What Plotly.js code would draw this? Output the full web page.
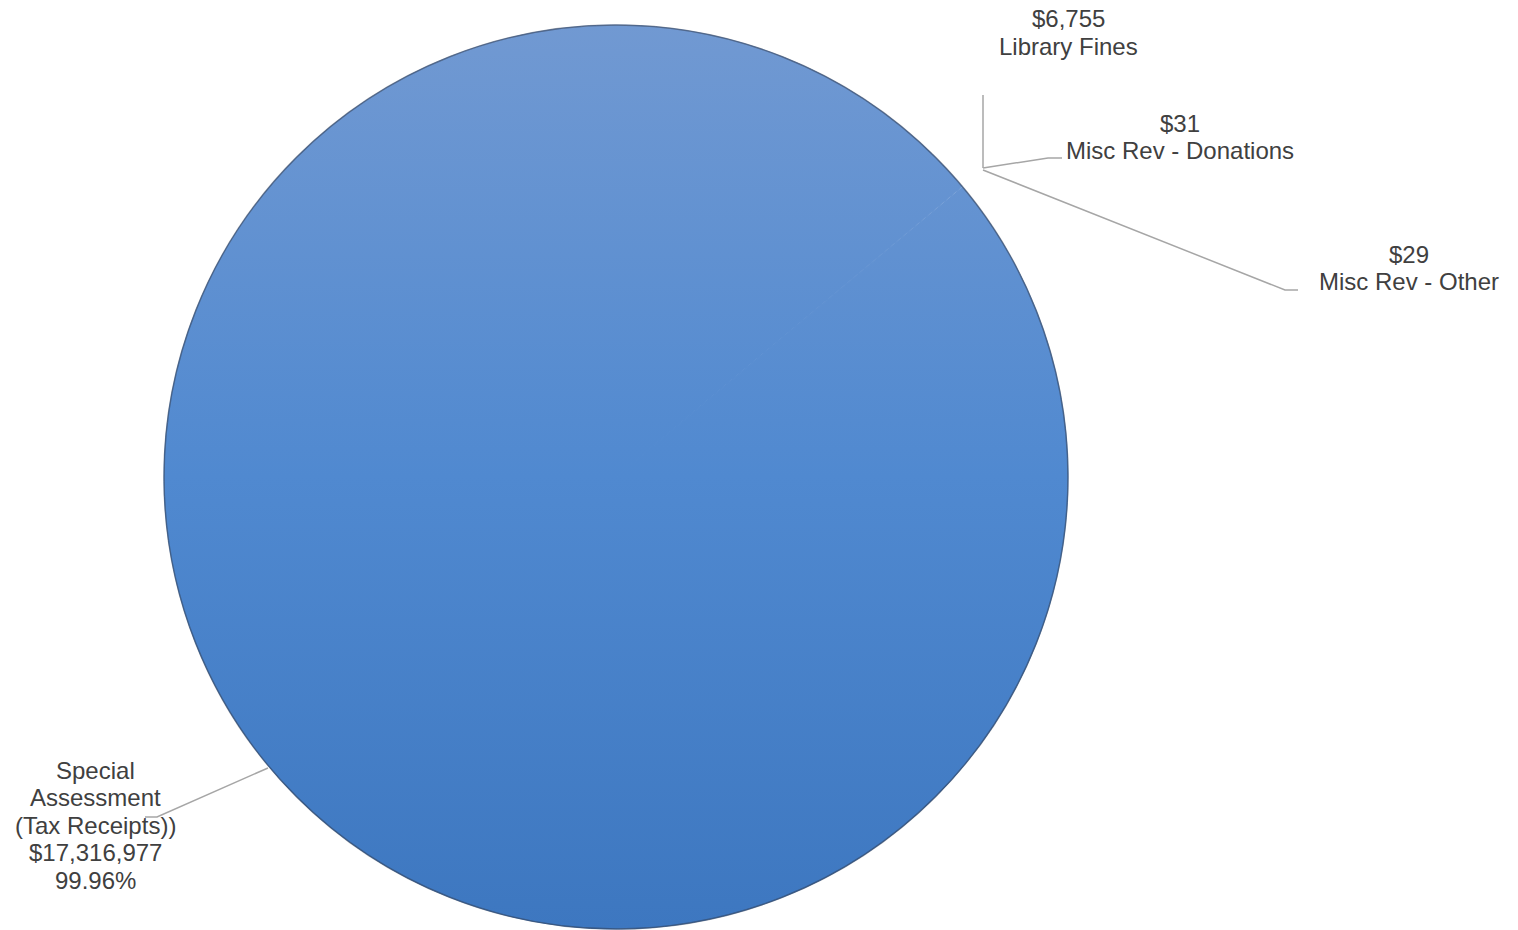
<!DOCTYPE html>
<html>
<head>
<meta charset="utf-8">
<script src="https://cdn.plot.ly/plotly-3.0.1.min.js"></script>
<style>
html,body{margin:0;padding:0;background:#fff;}
#chart{width:1518px;height:930px;}
</style>
</head>
<body>
<div id="chart"></div>
<script>
// ---- data ----
const categories = ["Library Fines", "Misc Rev - Donations", "Misc Rev - Other", "Special Assessment (Tax Receipts))"];
const displayNames = ["Library Fines", "Misc Rev - Donations", "Misc Rev - Other", "Special<br>Assessment<br>(Tax Receipts))"];
const amounts = [6755, 31, 29, 17316977];
const sliceColors = ["#a9c1e4", "#8fb0dd", "#6694d1", "#5089d0"];

// ---- layout helpers (pixel -> paper) ----
const W = 1518, H = 930;
const px = x => x / W;
const py = y => 1 - y / H;

const total = amounts.reduce((a, b) => a + b, 0);
const fmt = v => "$" + v.toLocaleString("en-US");

const labelText = amounts.map((v, i) => {
  if (i === 3) return displayNames[i] + "<br>" + fmt(v) + "<br>" + (100 * v / total).toFixed(2) + "%";
  return fmt(v) + "<br>" + displayNames[i];
});

// label block positions (pixels): centre x, first-line centre y; line step
const labelPos = [[1068, 19], [1180, 123], [1409, 254], [95, 770]];
const lineStep = 27.5;

const annotations = [];
labelText.forEach((t, i) => {
  t.split("<br>").forEach((line, j) => {
    annotations.push({
      text: line, x: px(labelPos[i][0]), y: py(labelPos[i][1] + j * lineStep),
      xref: "paper", yref: "paper", showarrow: false,
      xanchor: "center", yanchor: "middle", align: "center",
      font: {family: "Liberation Sans, Arial, sans-serif", size: 24, color: "#404040"}
    });
  });
});

// leader lines (pixels)
const leaders = [
  [[983, 168], [983, 95]],
  [[983, 168], [1048, 158], [1062, 158]],
  [[983, 170], [1285, 290], [1298, 290]],
  [[268, 768], [157, 817], [145, 817]]
];
const cx = 616, cy = 477, r = 452;
const shapes = leaders.map(pts => ({
  type: "path", xref: "paper", yref: "paper",
  path: pts.map((p, j) => (j ? "L" : "M") + px(p[0]) + "," + py(p[1])).join(" "),
  line: {color: "#a6a6a6", width: 1.5}
}));
// soft outer edge of the pie
shapes.push({
  type: "circle", xref: "paper", yref: "paper",
  x0: px(cx - r), x1: px(cx + r), y0: py(cy + r), y1: py(cy - r),
  line: {color: "rgba(50,60,80,0.55)", width: 1.5}, layer: "above"
});

const trace = {
  type: "pie",
  labels: categories,
  values: amounts,
  sort: false,
  direction: "clockwise",
  rotation: 50,
  textinfo: "none",
  hoverinfo: "label+value+percent",
  marker: {colors: sliceColors, line: {width: 1, color: sliceColors}},
  domain: {x: [px(cx - r), px(cx + r)], y: [py(cy + r), py(cy - r)]},
  showlegend: false
};

const layout = {
  width: W, height: H,
  margin: {l: 0, r: 0, t: 0, b: 0},
  paper_bgcolor: "#ffffff",
  showlegend: false,
  annotations: annotations,
  shapes: shapes
};

Plotly.newPlot("chart", [trace], layout, {displayModeBar: false, staticPlot: true}).then(gd => {
  // vertical gradient fill for the large slice
  const svg = gd.querySelector("svg.main-svg");
  const ns = "http://www.w3.org/2000/svg";
  let defs = svg.querySelector("defs");
  if (!defs) { defs = document.createElementNS(ns, "defs"); svg.insertBefore(defs, svg.firstChild); }
  const g = document.createElementNS(ns, "linearGradient");
  g.setAttribute("id", "bigGrad");
  g.setAttribute("x1", "0"); g.setAttribute("y1", "0");
  g.setAttribute("x2", "0"); g.setAttribute("y2", "1");
  [["0", "#7199d2"], ["0.5", "#5089d0"], ["1", "#3d77c0"]].forEach(s => {
    const st = document.createElementNS(ns, "stop");
    st.setAttribute("offset", s[0]); st.setAttribute("stop-color", s[1]);
    g.appendChild(st);
  });
  defs.appendChild(g);
  const slices = gd.querySelectorAll("g.slice path.surface");
  if (slices.length >= 4) {
    slices[3].style.fill = "url(#bigGrad)";
    slices[3].style.stroke = "url(#bigGrad)";
  }
});
</script>
</body>
</html>
